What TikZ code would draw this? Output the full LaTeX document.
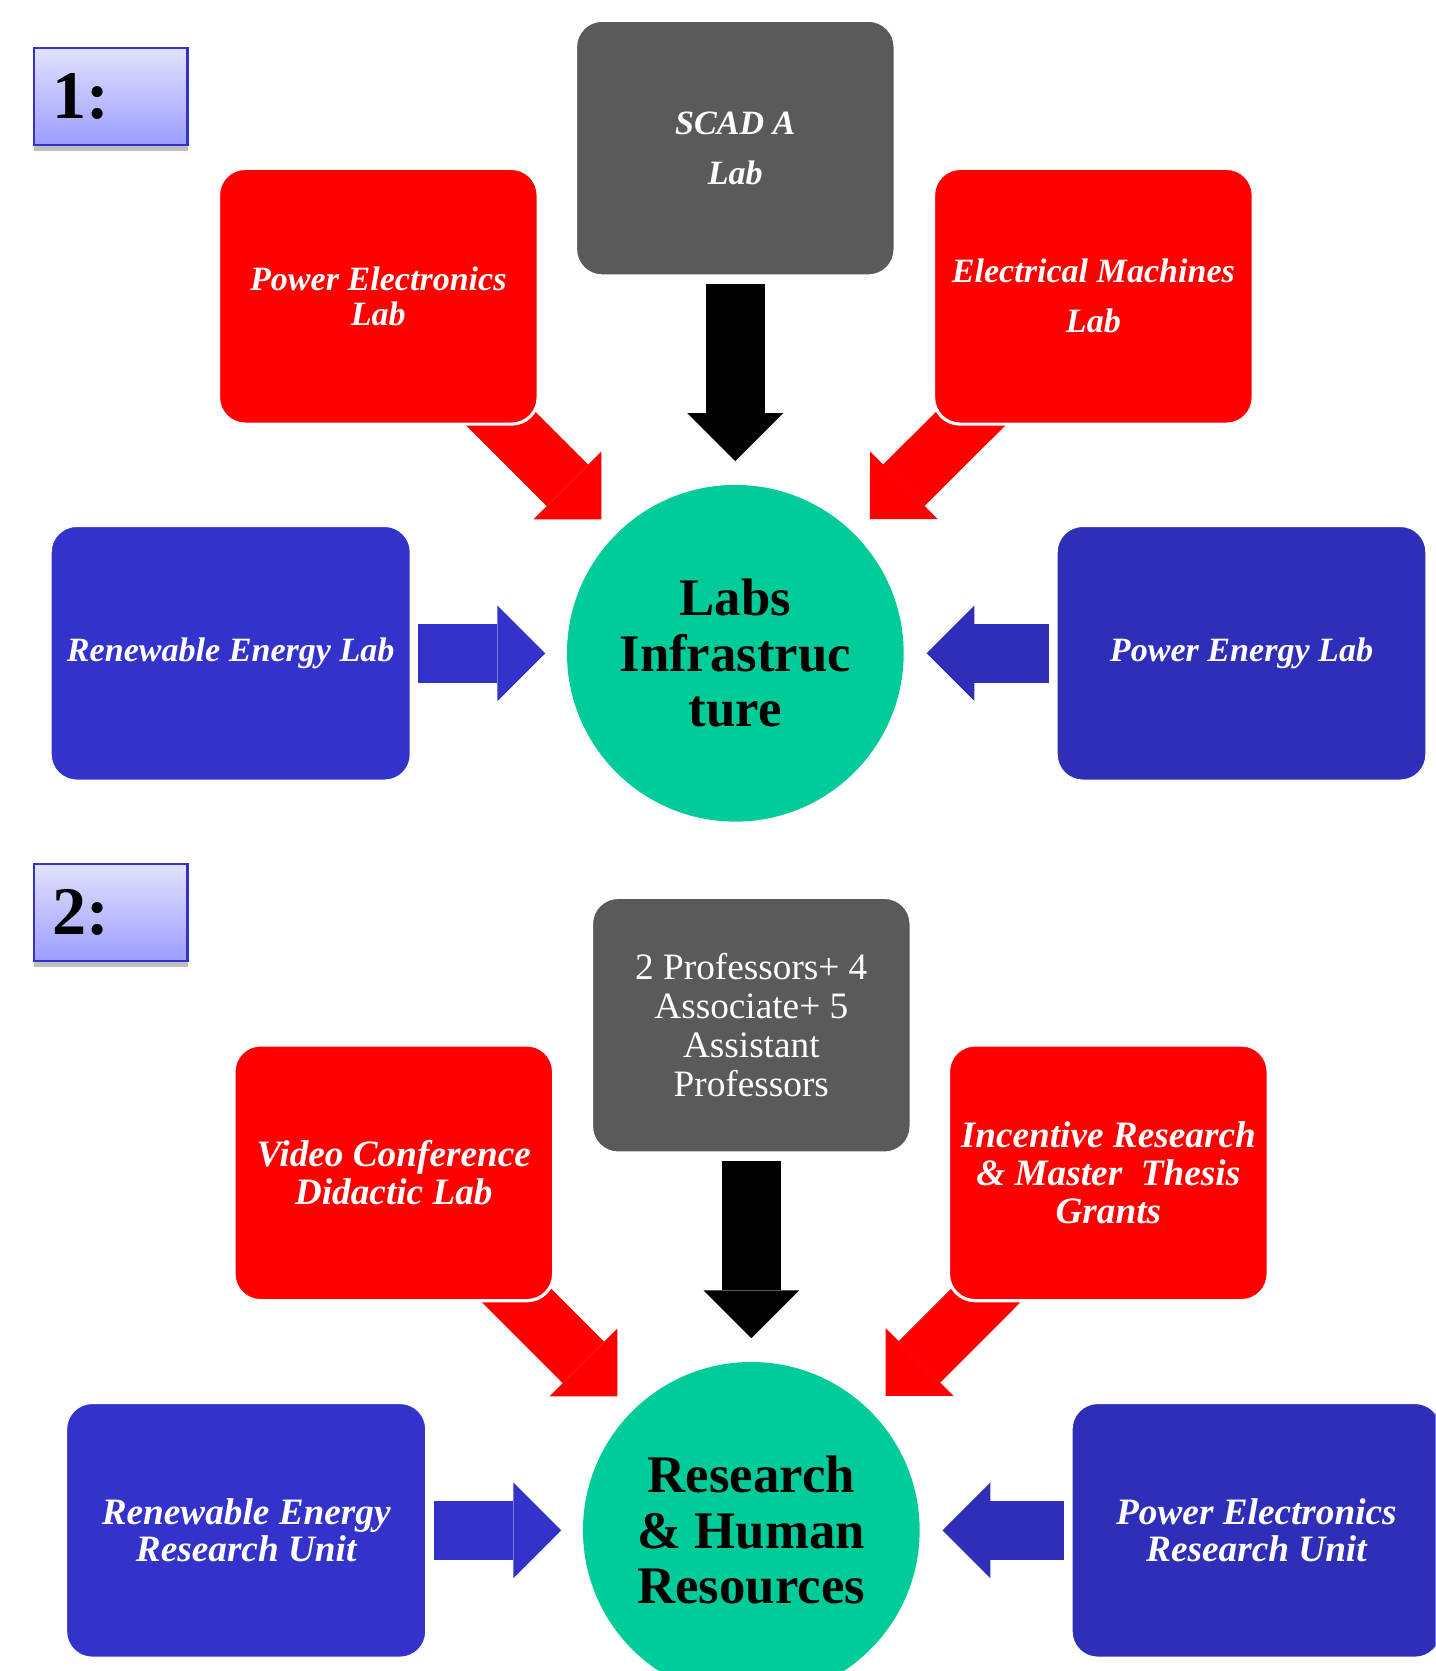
\documentclass[tikz,border=0pt]{standalone}
\usepackage{fontspec}
\setmainfont{Liberation Serif}
\usetikzlibrary{arrows.meta,shadows}
\definecolor{boxred}{HTML}{FF0000}
\definecolor{boxgray}{HTML}{5A5A5A}
\definecolor{boxblue}{HTML}{3333CC}
\definecolor{boxnavy}{HTML}{2E2EB8}
\definecolor{hubgreen}{HTML}{00CC99}
\definecolor{tagtop}{HTML}{E2E2FF}
\definecolor{tagbottom}{HTML}{9C9CFF}
\pgfdeclarelayer{bg}\pgfsetlayers{bg,main}

\begin{document}
\begin{tikzpicture}[x=0.02cm,y=-0.02cm,
box/.style={draw=white,line width=1.7pt,rounded corners=0.5cm,minimum width=6cm,minimum height=4.8cm,align=center,text=white,inner sep=2pt},
labone/.style={box,font=\fontsize{18.2}{18.8}\selectfont\bfseries\itshape},
labtwo/.style={box,font=\fontsize{19.9}{20.2}\selectfont\bfseries\itshape},
hub/.style={circle,fill=hubgreen,minimum size=6.32cm,inner sep=0pt,align=center,font=\fontsize{28.2}{29.6}\selectfont\bfseries},
tag/.style={draw=boxblue,line width=1.2pt,top color=tagtop,bottom color=tagbottom,minimum width=2.88cm,minimum height=1.82cm,text width=2.2cm,inner xsep=0.34cm,align=left,font=\fontsize{36.4}{40}\selectfont\bfseries,drop shadow={shadow xshift=0pt,shadow yshift=-3pt,fill=black!50,opacity=.5}},
fat/.style={line width=31.3pt,-{Triangle[length=25.6pt,width=51.2pt,line width=0pt]}}]
\useasboundingbox (0,0) rectangle (1347,1568);
\clip (0,0) rectangle (1347,1568);

% 1: labs
\node[tag] (tag1) at (104,90.5) {1:};
\node[labone,fill=boxgray] (scada) at (690,139) {SCAD A\\[8pt]Lab};
\node[labone,fill=boxred] (pel) at (355,278) {Power Electronics\\Lab};
\node[labone,fill=boxred] (eml) at (1026,278) {Electrical Machines\\[8pt]Lab};
\node[hub] (infra) at (690,613) {Labs\\Infrastruc\\ture};
\node[labone,fill=boxblue,minimum width=6.78cm] (rel) at (216.5,613) {Renewable Energy Lab};
\node[labone,fill=boxnavy,minimum width=6.96cm] (pwl) at (1165,613) {Power Energy Lab};
\begin{pgfonlayer}{bg}
\draw[fat,black,shorten <=3.4pt,shorten >=12.5pt] (scada) -- (infra);
\draw[fat,boxred,shorten >=11.1pt] (pel.center) -- (infra);\draw[fat,boxred,shorten >=11.4pt] (eml.center) -- (infra);
\draw[fat,boxblue,shorten <=2.8pt,shorten >=11.4pt] (rel) -- (infra);\draw[fat,boxnavy,shorten <=2.8pt,shorten >=12pt] (pwl) -- (infra);
\end{pgfonlayer}

% 2: research and staff
\node[tag] (tag2) at (104,856.5) {2:};
\node[box,fill=boxgray,font=\fontsize{19.9}{20.8}\selectfont] (staff) at (705,962) {2 Professors+ 4\\Associate+ 5\\Assistant\\Professors};
\node[labtwo,fill=boxred] (vcl) at (369.5,1100.5) {Video Conference\\Didactic Lab};
\node[labtwo,fill=boxred] (irg) at (1040,1100.5) {Incentive Research\\\& Master\ \ Thesis\\Grants};
\node[hub] (human) at (705,1436) {Research\\\& Human\\Resources};
\node[labtwo,fill=boxblue,minimum width=6.78cm] (reru) at (231,1436) {Renewable Energy\\Research Unit};
\node[labtwo,fill=boxnavy,minimum width=6.96cm] (peru) at (1179,1436) {Power Electronics\\Research Unit};
\begin{pgfonlayer}{bg}
\draw[fat,black,shorten <=3.4pt,shorten >=12.5pt] (staff) -- (human);
\draw[fat,boxred,shorten >=11.1pt] (vcl.center) -- (human);\draw[fat,boxred,shorten >=11.4pt] (irg.center) -- (human);
\draw[fat,boxblue,shorten <=2.8pt,shorten >=11.4pt] (reru) -- (human);\draw[fat,boxnavy,shorten <=2.8pt,shorten >=12pt] (peru) -- (human);
\end{pgfonlayer}
\end{tikzpicture}
\end{document}
